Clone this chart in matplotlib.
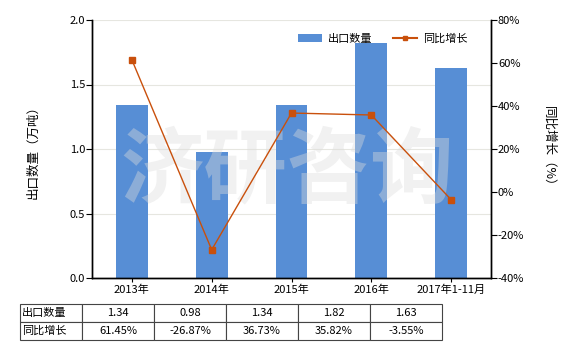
import matplotlib
matplotlib.use("Agg")
import matplotlib.pyplot as plt
from matplotlib.lines import Line2D
from matplotlib.patches import Patch

plt.rcParams['font.family'] = ['Noto Sans CJK SC', 'DejaVu Sans']
plt.rcParams['axes.unicode_minus'] = False

categories = ["2013年", "2014年", "2015年", "2016年", "2017年1-11月"]
export_qty = [1.34, 0.98, 1.34, 1.82, 1.63]
yoy_growth = [61.45, -26.87, 36.73, 35.82, -3.55]
qty_labels = ["1.34", "0.98", "1.34", "1.82", "1.63"]
growth_labels = ["61.45%", "-26.87%", "36.73%", "35.82%", "-3.55%"]
series_names = ["出口数量", "同比增长"]
left_ticks = [0.0, 0.5, 1.0, 1.5, 2.0]
right_ticks = [-40, -20, 0, 20, 40, 60, 80]

bar_color = "#578ED5"
line_color = "#C9500C"
fs = 8

fig = plt.figure(figsize=(5.8, 3.5), dpi=100)
ax = fig.add_axes([92/580, 1-278/350, 399/580, 258/350])
ax2 = ax.twinx()

x = list(range(len(categories)))
ax.bar(x, export_qty, width=0.4, color=bar_color, zorder=2)
ax.set_xlim(-0.5, len(categories)-0.5)
ax.set_ylim(0, 2.0)
ax.set_yticks(left_ticks)
ax.set_yticklabels([f"{t:.1f}" for t in left_ticks], fontsize=fs)
ax.set_xticks(x)
ax.set_xticklabels(categories, fontsize=fs)
ax.yaxis.grid(True, color="#e6e6e0", linewidth=0.8, zorder=0)
ax.set_axisbelow(True)
ax.tick_params(axis='x', length=3, pad=2)
ax.tick_params(axis='y', length=4, pad=1)
ax.set_ylabel("出口数量（万吨）", fontsize=fs+1, labelpad=22)

ax2.plot(x, yoy_growth, color=line_color, linewidth=1.0, marker='s',
         markersize=4, zorder=5)
ax2.set_ylim(-40, 80)
ax2.set_yticks(right_ticks)
ax2.set_yticklabels([f"{t}%" for t in right_ticks], fontsize=fs)
ax2.tick_params(axis='y', length=4, pad=1)
ax2.set_ylabel("同比增长（%）", fontsize=fs+1, rotation=-90, labelpad=22)

for a in (ax, ax2):
    a.spines['top'].set_visible(False)
    for s in ('left', 'right', 'bottom'):
        a.spines[s].set_color('black')
        a.spines[s].set_linewidth(1.0)

# watermark
ax.text(0.49, 0.41, "济研咨询", transform=ax.transAxes, fontsize=60,
        fontweight='bold', color='#dcdcdc', alpha=0.4, ha='center',
        va='center', zorder=10)

handles = [Patch(facecolor=bar_color, edgecolor='none'),
           Line2D([0], [0], color=line_color, marker='s', markersize=3, linewidth=1.5)]
ax2.legend(handles, series_names, loc='upper right', bbox_to_anchor=(0.965, 0.985),
           ncol=2, frameon=False, fontsize=fs, handlelength=2.2,
           columnspacing=1.8, handletextpad=0.5)

# data table below chart
cell_text = [[series_names[0]] + qty_labels, [series_names[1]] + growth_labels]
tb = ax.table(cellText=cell_text, cellLoc='center',
              colWidths=[62] + [72.2]*5,
              bbox=[(20-92)/400, (278-340)/258, 423/400, 36/258])
tb.auto_set_font_size(False)
tb.set_fontsize(fs)
for (r, c), cell in tb.get_celld().items():
    cell.set_edgecolor('#444444')
    cell.set_linewidth(0.8)
    if c == 0:
        cell._loc = 'left'
        cell.PAD = 0.03
        cell.get_text().set_ha('left')

fig.savefig("out.png", dpi=100)
